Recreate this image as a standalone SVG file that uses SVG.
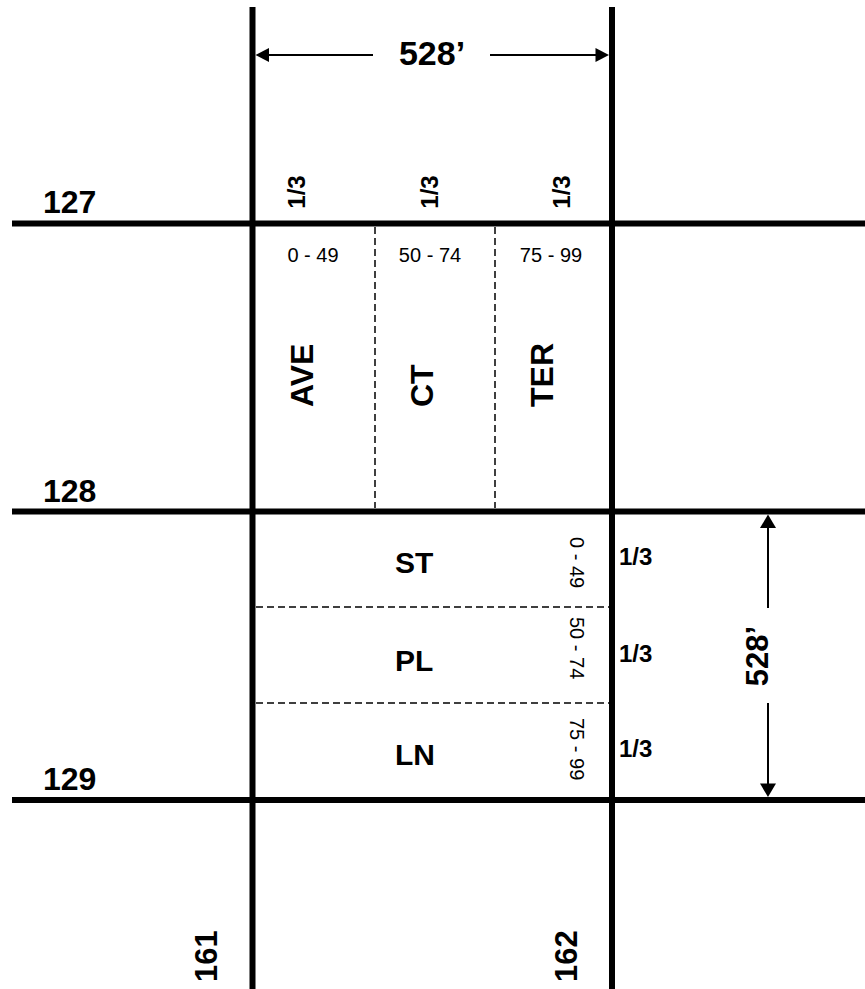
<svg xmlns="http://www.w3.org/2000/svg" width="865" height="989" viewBox="0 0 865 989">
<style>
.road{stroke:#000;stroke-width:6;fill:none}
.dash{stroke:#000;stroke-width:1.5;stroke-dasharray:7 4;fill:none}
.dim{stroke:#000;stroke-width:2;fill:none}
.head{fill:#000}
.b{font-family:"Liberation Sans",Arial,sans-serif;font-weight:bold;fill:#000}
.r{font-family:"Liberation Sans",Arial,sans-serif;fill:#000}
</style>
<rect width="865" height="989" fill="#fff"/>
<g id="roads">
<line class="road" x1="252.5" y1="7" x2="252.5" y2="989"/>
<line class="road" x1="612" y1="7" x2="612" y2="989"/>
<line class="road" x1="12" y1="223.5" x2="865" y2="223.5"/>
<line class="road" x1="12" y1="511.5" x2="865" y2="511.5"/>
<line class="road" x1="12" y1="800" x2="865" y2="800"/>
</g>
<g id="dividers">
<line class="dash" x1="375" y1="227" x2="375" y2="508"/>
<line class="dash" x1="495" y1="227" x2="495" y2="508"/>
<line class="dash" x1="256" y1="607" x2="609" y2="607"/>
<line class="dash" x1="256" y1="703" x2="609" y2="703"/>
</g>
<g id="dim-top">
<line class="dim" x1="262" y1="55" x2="373" y2="55"/>
<line class="dim" x1="490" y1="55" x2="602" y2="55"/>
<polygon class="head" points="255.5,55 269,48 269,62"/>
<polygon class="head" points="609,55 595.5,48 595.5,62"/>
<text class="b" x="432" y="65" font-size="34" text-anchor="middle">528’</text>
</g>
<g id="dim-right">
<line class="dim" x1="768" y1="522" x2="768" y2="608"/>
<line class="dim" x1="768" y1="703" x2="768" y2="790"/>
<polygon class="head" points="768,514.5 760,528 776,528"/>
<polygon class="head" points="768,797 760,783.5 776,783.5"/>
<text class="b" font-size="31" text-anchor="middle" transform="translate(768,656) rotate(-90)">528’</text>
</g>
<g id="street-numbers">
<text class="b" x="43" y="213" font-size="32">127</text>
<text class="b" x="43" y="502" font-size="32">128</text>
<text class="b" x="43" y="790" font-size="32">129</text>
<text class="b" font-size="31" transform="translate(217,982) rotate(-90)">161</text>
<text class="b" font-size="31" transform="translate(577,982) rotate(-90)">162</text>
</g>
<g id="top-thirds">
<text class="b" font-size="24" text-anchor="middle" transform="translate(305,192) rotate(-90)">1/3</text>
<text class="b" font-size="24" text-anchor="middle" transform="translate(438,192) rotate(-90)">1/3</text>
<text class="b" font-size="24" text-anchor="middle" transform="translate(570,192) rotate(-90)">1/3</text>
</g>
<g id="col-ave">
<text class="r" x="313" y="262" font-size="20" text-anchor="middle">0 - 49</text>
<text class="b" font-size="32" transform="translate(313,407) rotate(-90)">AVE</text>
</g>
<g id="col-ct">
<text class="r" x="430" y="262" font-size="20" text-anchor="middle">50 - 74</text>
<text class="b" font-size="32" transform="translate(433,407) rotate(-90)">CT</text>
</g>
<g id="col-ter">
<text class="r" x="551" y="262" font-size="20" text-anchor="middle">75 - 99</text>
<text class="b" font-size="32" transform="translate(553,407) rotate(-90)">TER</text>
</g>
<g id="row-st">
<text class="b" x="395" y="573" font-size="30">ST</text>
<text class="r" font-size="20" transform="translate(570,537) rotate(90)">0 - 49</text>
<text class="b" x="619" y="565" font-size="24">1/3</text>
</g>
<g id="row-pl">
<text class="b" x="395" y="671" font-size="30">PL</text>
<text class="r" font-size="20" transform="translate(570,617) rotate(90)">50 - 74</text>
<text class="b" x="619" y="662" font-size="24">1/3</text>
</g>
<g id="row-ln">
<text class="b" x="395" y="765" font-size="30">LN</text>
<text class="r" font-size="20" transform="translate(570,718) rotate(90)">75 - 99</text>
<text class="b" x="619" y="757" font-size="24">1/3</text>
</g>
</svg>
